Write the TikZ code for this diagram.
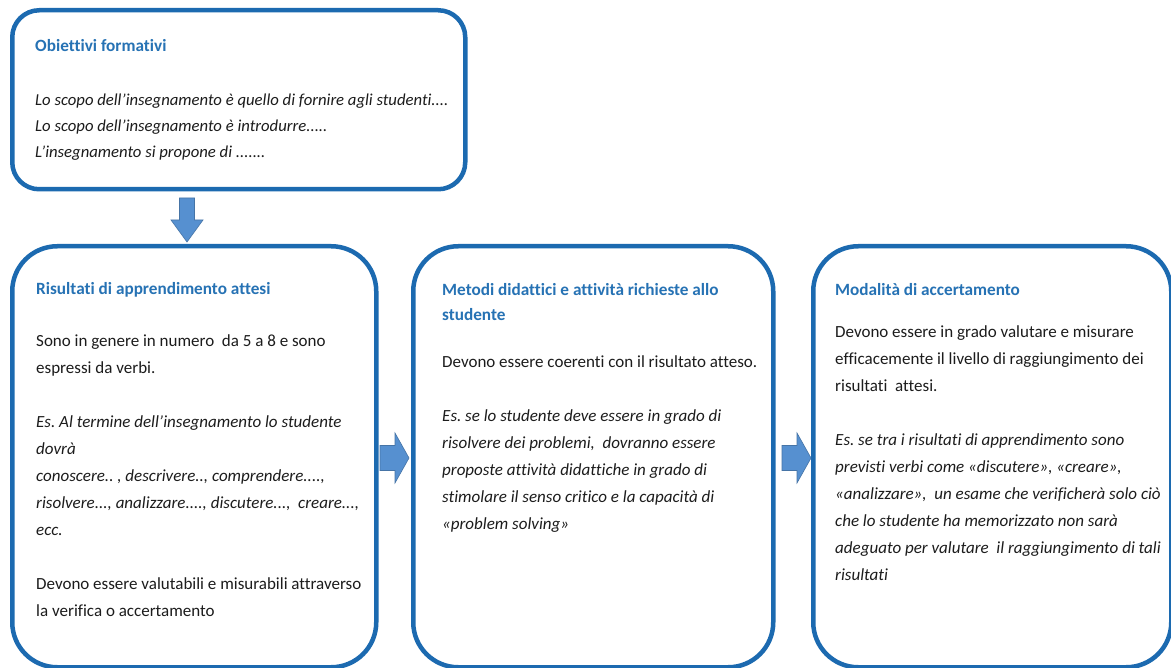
\documentclass[tikz,border=0pt]{standalone}
\usepackage{fontspec}
\setmainfont{Carlito}[Ligatures={NoCommon}]
\usetikzlibrary{calc}
\frenchspacing
\definecolor{border}{RGB}{28,106,176}
\definecolor{titleblue}{RGB}{38,114,180}
\definecolor{arrowfill}{RGB}{86,144,208}
\definecolor{arrowline}{RGB}{70,116,166}
\definecolor{txt}{RGB}{28,28,28}
\tikzset{
  box/.style={draw=border, line width=4.5pt, fill=white, inner sep=0pt, anchor=north west},
  ttl/.style={anchor=base west, inner sep=0pt, text=titleblue, font=\fontsize{17.2}{25}\selectfont\bfseries},
  body/.style={anchor=base west, inner sep=0pt, text=txt, font=\fontsize{17}{27}\selectfont},
  blockarrow/.style={fill=arrowfill, draw=arrowline, line width=0.6pt, line join=miter},
  rarr/.pic={\draw[blockarrow] (0,-12.5) -- (15,-12.5) -- (15,-25) -- (29,0) -- (15,25) -- (15,12.5) -- (0,12.5) -- cycle;},
  darr/.pic={\draw[blockarrow] (-7.5,0) -- (7.5,0) -- (7.5,22) -- (16,22) -- (0,44) -- (-16,22) -- (-7.5,22) -- cycle;}
}
\begin{document}
\begin{tikzpicture}[x=1pt,y=-1pt]
\useasboundingbox (0,0) rectangle (1171,668);
\fill[white] (0,0) rectangle (1171,668);

% boxes
\node[box, rounded corners=27pt, minimum width=453pt, minimum height=179pt] (b1) at (10,8) {};
\node[box, rounded corners=45pt, minimum width=364pt, minimum height=421pt] (b2) at (10,244) {};
\node[box, rounded corners=45pt, minimum width=360pt, minimum height=421pt] (b3) at (411,244) {};
\node[box, rounded corners=45pt, minimum width=358pt, minimum height=421pt] (b4) at (811,244) {};

% arrows
\coordinate (da) at (187,198);
\coordinate (ra1) at (380,458);
\coordinate (ra2) at (782,458);
\pic at (da) {darr};
\pic at (ra1) {rarr};
\pic at (ra2) {rarr};

% box 1
\node[ttl] (t1) at (35,52) {Obiettivi formativi};
\node[body, font=\fontsize{16.7}{26}\selectfont] (d1) at (35,106) {\parbox[t]{425pt}{\raggedright\itshape
Lo scopo dell’insegnamento è quello di fornire agli studenti....\\
Lo scopo dell’insegnamento è introdurre.....\\
L’insegnamento si propone di .......}};

% box 2
\node[ttl] (t2) at (36,295) {Risultati di apprendimento attesi};
\node[body] (d2) at (36,347) {\parbox[t]{335pt}{\raggedright
Sono in genere in numero\ \ da 5 a 8 e sono\\
espressi da verbi.\\[27pt]
{\itshape Es. Al termine dell’insegnamento lo studente\\
dovrà\\
conoscere.. , descrivere.., comprendere....,\\
risolvere..., analizzare...., discutere...,\ \ creare...,\\
ecc.}\\[27pt]
Devono essere valutabili e misurabili attraverso\\
la verifica o accertamento}};

% box 3
\node[ttl] (t3) at (442,296) {\parbox[t]{325pt}{\raggedright\baselineskip=25pt
Metodi didattici e attività richieste allo\\
studente}};
\node[body] (d3) at (442,368) {\parbox[t]{335pt}{\raggedright
Devono essere coerenti con il risultato atteso.\\[27pt]
{\itshape Es. se lo studente deve essere in grado di\\
risolvere dei problemi,\ \ dovranno essere\\
proposte attività didattiche in grado di\\
stimolare il senso critico e la capacità di\\
«problem solving»}}};

% box 4
\node[ttl] (t4) at (835,296) {Modalità di accertamento};
\node[body] (d4) at (835,338) {\parbox[t]{335pt}{\raggedright
Devono essere in grado valutare e misurare\\
efficacemente il livello di raggiungimento dei\\
risultati\ \ attesi.\\[27pt]
{\itshape Es. se tra i risultati di apprendimento sono\\
previsti verbi come «discutere», «creare»,\\
«analizzare»,\ \ un esame che verificherà solo ciò\\
che lo studente ha memorizzato non sarà\\
adeguato per valutare\ \ il raggiungimento di tali\\
risultati}}};
\end{tikzpicture}
\end{document}
